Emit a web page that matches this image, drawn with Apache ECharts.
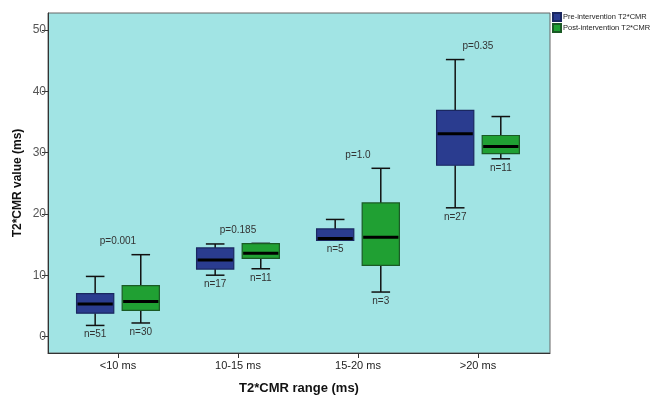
<!DOCTYPE html>
<html><head><meta charset="utf-8">
<script src="https://cdn.jsdelivr.net/npm/echarts@6/dist/echarts.min.js"></script>
<style>html,body{margin:0;padding:0;background:#fff}#c{width:657px;height:395px}</style>
</head><body><div id="c"></div>
<script>
const categories = ['<10 ms', '10-15 ms', '15-20 ms', '>20 ms'];
const yTicks = [0, 10, 20, 30, 40, 50];
// [min, q1, median, q3, max]
const preBox = [
  [1.8, 3.8, 5.3, 7.0, 9.8],
  [10.0, 11.0, 12.5, 14.45, 15.1],
  [15.7, 15.7, 16.0, 17.55, 19.1],
  [21.0, 27.95, 33.1, 36.9, 45.2]
];
const postBox = [
  [2.2, 4.25, 5.7, 8.3, 13.35],
  [11.05, 12.75, 13.6, 15.15, 15.2],
  [7.25, 11.6, 16.2, 21.8, 27.45],
  [29.0, 29.85, 31.0, 32.8, 35.9]
];
const preN = ['n=51', 'n=17', 'n=5', 'n=27'];
const postN = ['n=30', 'n=11', 'n=3', 'n=11'];
const pValues = ['p=0.001', 'p=0.185', 'p=1.0', 'p=0.35'];
const seriesNames = ['Pre-intervention T2*CMR', 'Post-intervention T2*CMR'];

const chart = echarts.init(document.getElementById('c'));
const textFont = 'Liberation Sans, Arial, sans-serif';

function boxRender(offset, fill, stroke, nLabels) {
  return function (params, api) {
    const i = api.value(0);
    const vals = [api.value(1), api.value(2), api.value(3), api.value(4), api.value(5)];
    const cx = api.coord([i + offset, 0])[0];
    const w = api.size([0.31, 0])[0];
    const y = vals.map(v => api.coord([0, v])[1]);
    const capW = w * 0.5;
    const children = [];
    const lineStyle = { stroke: '#111', lineWidth: 1.5 };
    children.push({ type: 'line', shape: { x1: cx, y1: y[4], x2: cx, y2: y[3] }, style: lineStyle });
    children.push({ type: 'line', shape: { x1: cx, y1: y[0], x2: cx, y2: y[1] }, style: lineStyle });
    children.push({ type: 'line', shape: { x1: cx - capW / 2, y1: y[4], x2: cx + capW / 2, y2: y[4] }, style: lineStyle });
    children.push({ type: 'line', shape: { x1: cx - capW / 2, y1: y[0], x2: cx + capW / 2, y2: y[0] }, style: lineStyle });
    children.push({ type: 'rect', shape: { x: cx - w / 2, y: y[3], width: w, height: y[1] - y[3] },
      style: { fill: fill, stroke: stroke, lineWidth: 1.2 } });
    children.push({ type: 'line', shape: { x1: cx - w / 2 + 1, y1: y[2], x2: cx + w / 2 - 1, y2: y[2] },
      style: { stroke: '#000', lineWidth: 3 } });
    children.push({ type: 'text', x: cx, y: y[0] + 9,
      style: { text: nLabels[i], fill: '#333', font: '10px ' + textFont, align: 'center', verticalAlign: 'middle' } });
    return { type: 'group', children: children };
  };
}

function pRender(params, api) {
  const i = api.value(0);
  const top = Math.max(api.value(1), api.value(2));
  const p = api.coord([i, top]);
  return { type: 'text', x: p[0], y: p[1] - 13,
    style: { text: pValues[i], fill: '#333', font: '10px ' + textFont, align: 'center', verticalAlign: 'middle' } };
}

chart.setOption({
  animation: false,
  backgroundColor: '#fff',
  grid: { left: 48, right: 107, top: 13, bottom: 42, show: true, backgroundColor: '#a1e4e4',
    borderColor: '#666', borderWidth: 1, containLabel: false, outerBoundsMode: 'none' },
  legend: {
    orient: 'vertical', left: 552, top: 12, itemWidth: 8, itemHeight: 8, itemGap: 1,
    icon: 'rect', padding: 0,
    textStyle: { fontSize: 7.5, color: '#222', fontFamily: textFont, padding: [0, 0, 0, -3] },
    data: seriesNames
  },
  xAxis: {
    type: 'value', min: -0.583, max: 3.6,
    axisLine: { show: true, onZero: false, lineStyle: { color: '#333', width: 1 } },
    axisTick: { show: true, length: 5, customValues: [0, 1, 2, 3], lineStyle: { color: '#333' } },
    axisLabel: { customValues: [0, 1, 2, 3], formatter: v => categories[Math.round(v)],
      fontSize: 11, color: '#222', fontFamily: textFont, margin: 7 },
    splitLine: { show: false },
    name: 'T2*CMR range (ms)', nameLocation: 'middle', nameGap: 29, nameMoveOverlap: false,
    nameTextStyle: { fontSize: 13, fontWeight: 'bold', color: '#111', fontFamily: textFont }
  },
  yAxis: {
    type: 'value', min: -2.7, max: 52.8,
    axisLine: { show: true, onZero: false, lineStyle: { color: '#333', width: 1 } },
    axisTick: { show: true, length: 6, customValues: yTicks, lineStyle: { color: '#333' } },
    axisLabel: { customValues: yTicks, fontSize: 12, color: '#555', fontFamily: textFont, margin: 2 },
    splitLine: { show: false },
    name: 'T2*CMR value (ms)', nameLocation: 'middle', nameGap: 24, nameRotate: 90, nameMoveOverlap: false,
    nameTextStyle: { fontSize: 12, fontWeight: 'bold', color: '#111', fontFamily: textFont }
  },
  series: [
    { name: seriesNames[0], type: 'custom', itemStyle: { color: '#2a3c8f', borderColor: '#1a2760', borderWidth: 1 },
      renderItem: boxRender(-0.19, '#2a3c8f', '#1a2760', preN),
      encode: { x: 0, y: [1, 2, 3, 4, 5] },
      data: preBox.map((b, i) => [i].concat(b)), clip: false },
    { name: seriesNames[1], type: 'custom', itemStyle: { color: '#20a033', borderColor: '#1a5a25', borderWidth: 1 },
      renderItem: boxRender(0.19, '#20a033', '#1a5a25', postN),
      encode: { x: 0, y: [1, 2, 3, 4, 5] },
      data: postBox.map((b, i) => [i].concat(b)), clip: false },
    { name: 'p', type: 'custom', renderItem: pRender, encode: { x: 0, y: [1, 2] },
      data: categories.map((c, i) => [i, preBox[i][4], postBox[i][4]]), clip: false }
  ]
});
</script></body></html>
